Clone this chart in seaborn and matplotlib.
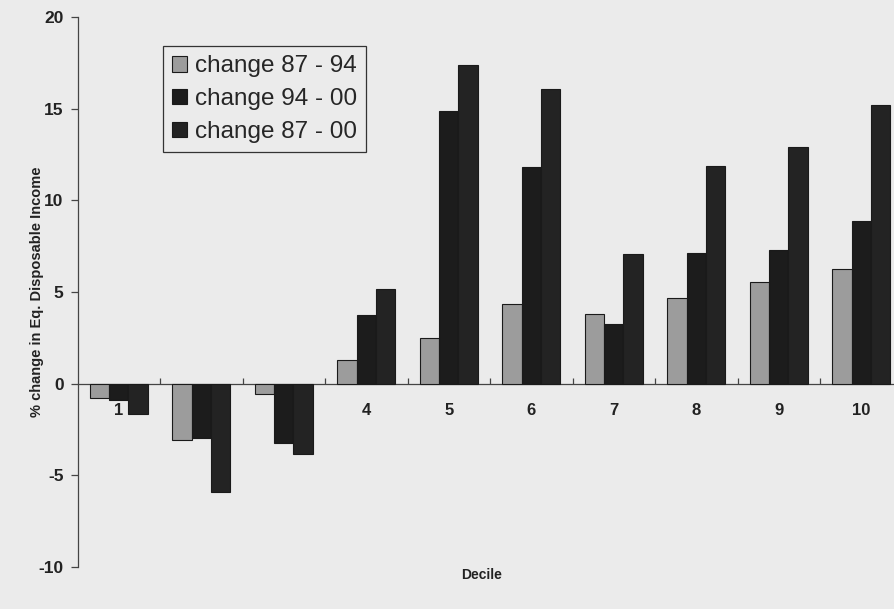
import matplotlib
matplotlib.use("Agg")
import matplotlib.pyplot as plt
import seaborn as sns
import pandas as pd
import numpy as np

deciles = ["1", "2", "3", "4", "5", "6", "7", "8", "9", "10"]
series_names = ["change 87 - 94", "change 94 - 00", "change 87 - 00"]
change_87_94 = [-0.8, -3.05, -0.55, 1.3, 2.5, 4.35, 3.8, 4.7, 5.55, 6.25]
change_94_00 = [-0.9, -2.95, -3.25, 3.75, 14.85, 11.8, 3.25, 7.15, 7.3, 8.85]
change_87_00 = [-1.65, -5.9, -3.85, 5.15, 17.4, 16.1, 7.1, 11.85, 12.9, 15.2]
yticks = [-10, -5, 0, 5, 10, 15, 20]

df = pd.DataFrame({
    "Decile": deciles * 3,
    "series": np.repeat(series_names, len(deciles)),
    "value": change_87_94 + change_94_00 + change_87_00,
})

bg = "#ebebeb"
sns.set_theme(style="white")
plt.rcParams["font.family"] = ["Liberation Sans", "DejaVu Sans"]

fig = plt.figure(figsize=(8.94, 6.09), dpi=100, facecolor=bg)
ax = fig.add_axes([77.5 / 894, 1 - 567 / 609, 825 / 894, 550 / 609])
ax.set_facecolor(bg)
ax.set_axisbelow(True)

palette = {series_names[0]: "#9c9c9c", series_names[1]: "#1c1c1c", series_names[2]: "#232323"}
sns.barplot(data=df, x="Decile", y="value", hue="series", palette=palette,
            width=0.7, edgecolor="#1a1a1a", linewidth=0.8, saturation=1,
            ax=ax, errorbar=None, order=deciles, zorder=3)

ax.set_xlim(-0.5, 9.5)
ax.set_ylim(-10, 20)
ax.set_yticks(yticks)
ax.set_yticklabels([str(t) for t in yticks], fontsize=12.5, fontweight="bold", color="#222")

for s in ["top", "right"]:
    ax.spines[s].set_visible(False)
ax.spines["bottom"].set_position(("data", 0))
ax.spines["bottom"].set_color("#444")
ax.spines["bottom"].set_linewidth(0.9)
ax.spines["left"].set_color("#444")
ax.spines["left"].set_linewidth(0.9)

ax.set_xticks(range(len(deciles)))
ax.set_xticklabels(deciles, fontsize=12, fontweight="bold", color="#222")
ax.set_xticks(np.arange(0.5, 9.5, 1.0), minor=True)
ax.tick_params(axis="x", which="major", length=0, pad=14)
ax.tick_params(axis="x", which="minor", length=4, direction="in", color="#444", width=0.9, bottom=True)
ax.tick_params(axis="y", which="major", length=5, direction="out", color="#444", width=0.9, left=True, pad=5)

ax.set_xlabel("")
ax.set_ylabel("% change in Eq. Disposable Income", fontsize=10.5, fontweight="bold", color="#222", labelpad=-4)
fig.text(482 / 894, 1 - 575 / 609, "Decile", ha="center", va="center",
         fontsize=10, fontweight="bold", color="#222")

leg = ax.legend(loc="upper left", bbox_to_anchor=(163 / 894, 1 - 46 / 609),
                bbox_transform=fig.transFigure, borderaxespad=0, fontsize=17.5, frameon=True,
                fancybox=False, handlelength=0.62, handleheight=0.62,
                handletextpad=0.3, labelspacing=0.45, borderpad=0.38)
leg.get_frame().set_edgecolor("#333")
leg.get_frame().set_facecolor(bg)
leg.get_frame().set_linewidth(0.9)
leg.get_frame().set_alpha(1)

fig.savefig("out.png", dpi=100, facecolor=bg)
